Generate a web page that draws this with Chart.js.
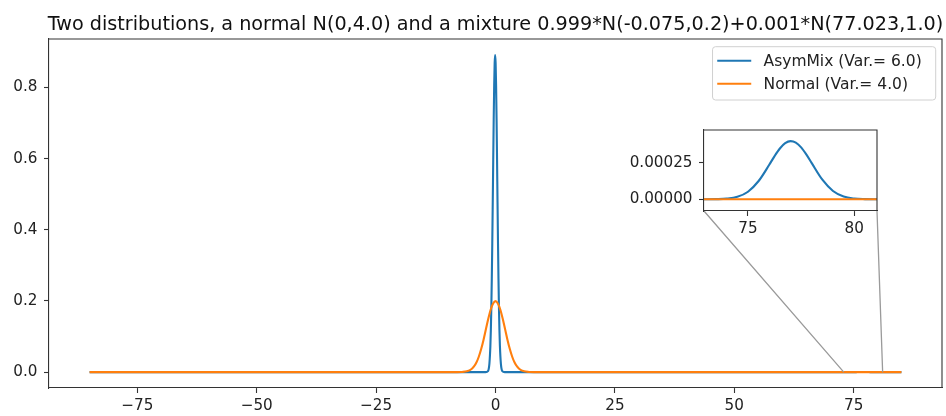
<!doctype html>
<html lang="en">
<head>
<meta charset="utf-8">
<title>Two distributions</title>
<script src="https://cdn.jsdelivr.net/npm/chart.js@4.4.1/dist/chart.umd.min.js"></script>
<style>
    body { margin: 0; background: #fff; }
    #wrap { position: relative; width: 946px; height: 416px; }
    #wrap canvas { position: absolute; left: 0; top: 0; }
</style>
</head>
<body>
<div id="wrap">
    <canvas id="mainChart" width="946" height="416"></canvas>
    <canvas id="insetChart" width="946" height="416"></canvas>
</div>
<script>
    const titleText = 'Two distributions, a normal N(0,4.0) and a mixture 0.999*N(-0.075,0.2)+0.001*N(77.023,1.0)'
    const mixLabel = 'AsymMix (Var.= 6.0)'
    const normalLabel = 'Normal (Var.= 4.0)'

    // values
    const mixX = [-85, -2.075, -1.575, -1.275, -1.075, -0.975, -0.875, -0.775, -0.675, -0.575, -0.475, -0.375, -0.275,
        -0.175, -0.075, 0.025, 0.125, 0.225, 0.325, 0.425, 0.525, 0.625, 0.725, 0.825, 0.925, 1.125, 1.425, 1.925,
        72.5, 73, 73.5, 74, 74.5, 75, 75.5, 76, 76.25, 76.5, 76.75, 77, 77.25, 77.5, 77.75, 78, 78.5, 79, 79.5, 80,
        80.5, 81, 81.5, 85]
    const mixY = [0, 0, 0.003, 0.024, 0.073, 0.118, 0.180, 0.262, 0.362, 0.477, 0.597, 0.711, 0.806,
        0.869, 0.891, 0.869, 0.806, 0.711, 0.597, 0.477, 0.362, 0.262, 0.180, 0.118, 0.073, 0.024, 0.003, 0,
        0, 0.00000012, 0.00000081, 0.0000041, 0.0000166, 0.0000516, 0.0001251, 0.0002365, 0.0002959, 0.000348,
        0.0003844, 0.0003989, 0.0003888, 0.0003561, 0.0003063, 0.0002476, 0.000134, 0.0000565, 0.0000186, 0.0000048,
        0.00000095, 0.00000015, 0, 0]
    const normalX = [-85, -8, -7, -6, -5, -4.5, -4, -3.5, -3, -2.5, -2, -1.5, -1, -0.5, 0,
        0.5, 1, 1.5, 2, 2.5, 3, 3.5, 4, 4.5, 5, 6, 7, 8, 85]
    const normalY = [0, 0, 0.0004, 0.0022, 0.0088, 0.0159, 0.027, 0.0432, 0.0648, 0.0913, 0.121, 0.1506, 0.176, 0.193, 0.1995,
        0.193, 0.176, 0.1506, 0.121, 0.0913, 0.0648, 0.0432, 0.027, 0.0159, 0.0088, 0.0022, 0.0004, 0, 0]

    const mainXTicks = [-75, -50, -25, 0, 25, 50, 75]
    const mainYTicks = [0, 0.2, 0.4, 0.6, 0.8]
    const insetXTicks = [75, 80]
    const insetYTicks = [0, 0.00025]
    const mainXRange = [-93.5, 93.5]
    const mainYRange = [-0.0446, 0.936]
    const insetXRange = [72.93, 81.07]
    const insetYRange = [-0.0000806, 0.000475]

    const blue = '#1f77b4'
    const orange = '#ff7f0e'
    const fontFamily = '"DejaVu Sans"'
    const tickFont = {family: 'DejaVu Sans', size: 15.2}
    const textColor = '#222'
    const spineColor = '#333'

    function toPoints(xs, ys) {
        return xs.map((x, i) => ({x: x, y: ys[i]}))
    }

    function fmtMinus(v) {
        return v < 0 ? '\u2212' + Math.abs(v) : String(v)
    }

    function makeDatasets() {
        return [{
            label: mixLabel,
            data: toPoints(mixX, mixY),
            borderColor: blue,
            borderWidth: 2.1,
            pointRadius: 0,
            cubicInterpolationMode: 'monotone',
            order: 2
        }, {
            label: normalLabel,
            data: toPoints(normalX, normalY),
            borderColor: orange,
            borderWidth: 2.1,
            pointRadius: 0,
            cubicInterpolationMode: 'monotone',
            order: 1
        }]
    }

    function axis(range, ticks, fmt, fitFn, pad) {
        return {
            type: 'linear',
            min: range[0],
            max: range[1],
            afterBuildTicks: s => { s.ticks = ticks.map(v => ({value: v})) },
            afterFit: fitFn,
            grid: {drawOnChartArea: false, tickLength: 5, tickColor: spineColor, tickWidth: 1.1},
            border: {color: spineColor, width: 1.1},
            ticks: {font: tickFont, color: textColor, padding: pad, maxRotation: 0, autoSkip: false, callback: fmt}
        }
    }

    // top and right spines
    const framePlugin = {
        id: 'frame',
        afterDraw(chart) {
            const a = chart.chartArea, ctx = chart.ctx
            ctx.save()
            ctx.strokeStyle = spineColor
            ctx.lineWidth = 1.1
            ctx.beginPath()
            ctx.moveTo(a.left, a.top)
            ctx.lineTo(a.right, a.top)
            ctx.lineTo(a.right, a.bottom)
            ctx.stroke()
            ctx.restore()
        }
    }

    const titlePlugin = {
        id: 'axesTitle',
        afterDraw(chart) {
            const a = chart.chartArea, ctx = chart.ctx
            ctx.save()
            ctx.font = '19.2px ' + fontFamily
            ctx.fillStyle = '#111'
            ctx.textAlign = 'center'
            ctx.textBaseline = 'alphabetic'
            ctx.fillText(titleText, (a.left + a.right) / 2, 29.5)
            ctx.restore()
        }
    }

    const legendPlugin = {
        id: 'boxLegend',
        afterDraw(chart) {
            const a = chart.chartArea, ctx = chart.ctx
            const items = chart.data.datasets
            ctx.save()
            ctx.font = '15.5px ' + fontFamily
            const textW = Math.max(...items.map(d => ctx.measureText(d.label).width))
            const w = 51 + textW + 14
            const h = 53.3
            const right = a.right - 6.3
            const top = a.top + 7.7
            const left = right - w
            ctx.beginPath()
            ctx.roundRect(left, top, w, h, 3)
            ctx.fillStyle = 'rgba(255,255,255,0.8)'
            ctx.fill()
            ctx.strokeStyle = '#d0d0d0'
            ctx.lineWidth = 1
            ctx.stroke()
            items.forEach((d, i) => {
                const y = top + 14 + i * 23
                ctx.strokeStyle = d.borderColor
                ctx.lineWidth = 2.1
                ctx.beginPath()
                ctx.moveTo(left + 4.7, y)
                ctx.lineTo(left + 38.7, y)
                ctx.stroke()
                ctx.fillStyle = textColor
                ctx.textAlign = 'left'
                ctx.textBaseline = 'middle'
                ctx.fillText(d.label, left + 51, y + 1)
            })
            ctx.restore()
        }
    }

    const mainChart = new Chart(document.getElementById('mainChart'), {
        type: 'line',
        data: {datasets: makeDatasets()},
        options: {
            responsive: false,
            animation: false,
            events: [],
            layout: {padding: {top: 39, right: 4, left: 0, bottom: 0}},
            plugins: {legend: {display: false}, tooltip: {enabled: false}, title: {display: false}},
            scales: {
                x: axis(mainXRange, mainXTicks, v => fmtMinus(v), s => { s.height = 28 }, 3.5),
                y: axis(mainYRange, mainYTicks, v => v.toFixed(1), s => { s.width = 49 }, 6.5)
            }
        },
        plugins: [framePlugin, titlePlugin, legendPlugin]
    })

    // connector lines from the zoomed region on the main axis to the inset, and white inset background
    const connectorPlugin = {
        id: 'connectors',
        beforeDraw(chart) {
            const a = chart.chartArea, ctx = chart.ctx
            const xs = mainChart.scales.x, ys = mainChart.scales.y
            const yb = ys.getPixelForValue(insetYRange[0])
            ctx.save()
            ctx.strokeStyle = '#9a9a9a'
            ctx.lineWidth = 1.3
            ctx.beginPath()
            ctx.moveTo(a.left, a.bottom)
            ctx.lineTo(xs.getPixelForValue(insetXRange[0]), yb)
            ctx.moveTo(a.right, a.bottom)
            ctx.lineTo(xs.getPixelForValue(insetXRange[1]), yb)
            ctx.stroke()
            ctx.fillStyle = '#fff'
            ctx.fillRect(a.left, a.top, a.right - a.left, a.bottom - a.top)
            ctx.restore()
        }
    }

    const insetChart = new Chart(document.getElementById('insetChart'), {
        type: 'line',
        data: {datasets: makeDatasets()},
        options: {
            responsive: false,
            animation: false,
            events: [],
            layout: {padding: {top: 130, right: 69, left: 624, bottom: 175}},
            plugins: {legend: {display: false}, tooltip: {enabled: false}, title: {display: false}},
            scales: {
                x: axis(insetXRange, insetXTicks, v => fmtMinus(v), s => { s.height = 30 }, 3.5),
                y: axis(insetYRange, insetYTicks, v => v.toFixed(5), s => { s.width = 80 }, 6.5)
            }
        },
        plugins: [connectorPlugin, framePlugin]
    })
</script>
</body>
</html>
